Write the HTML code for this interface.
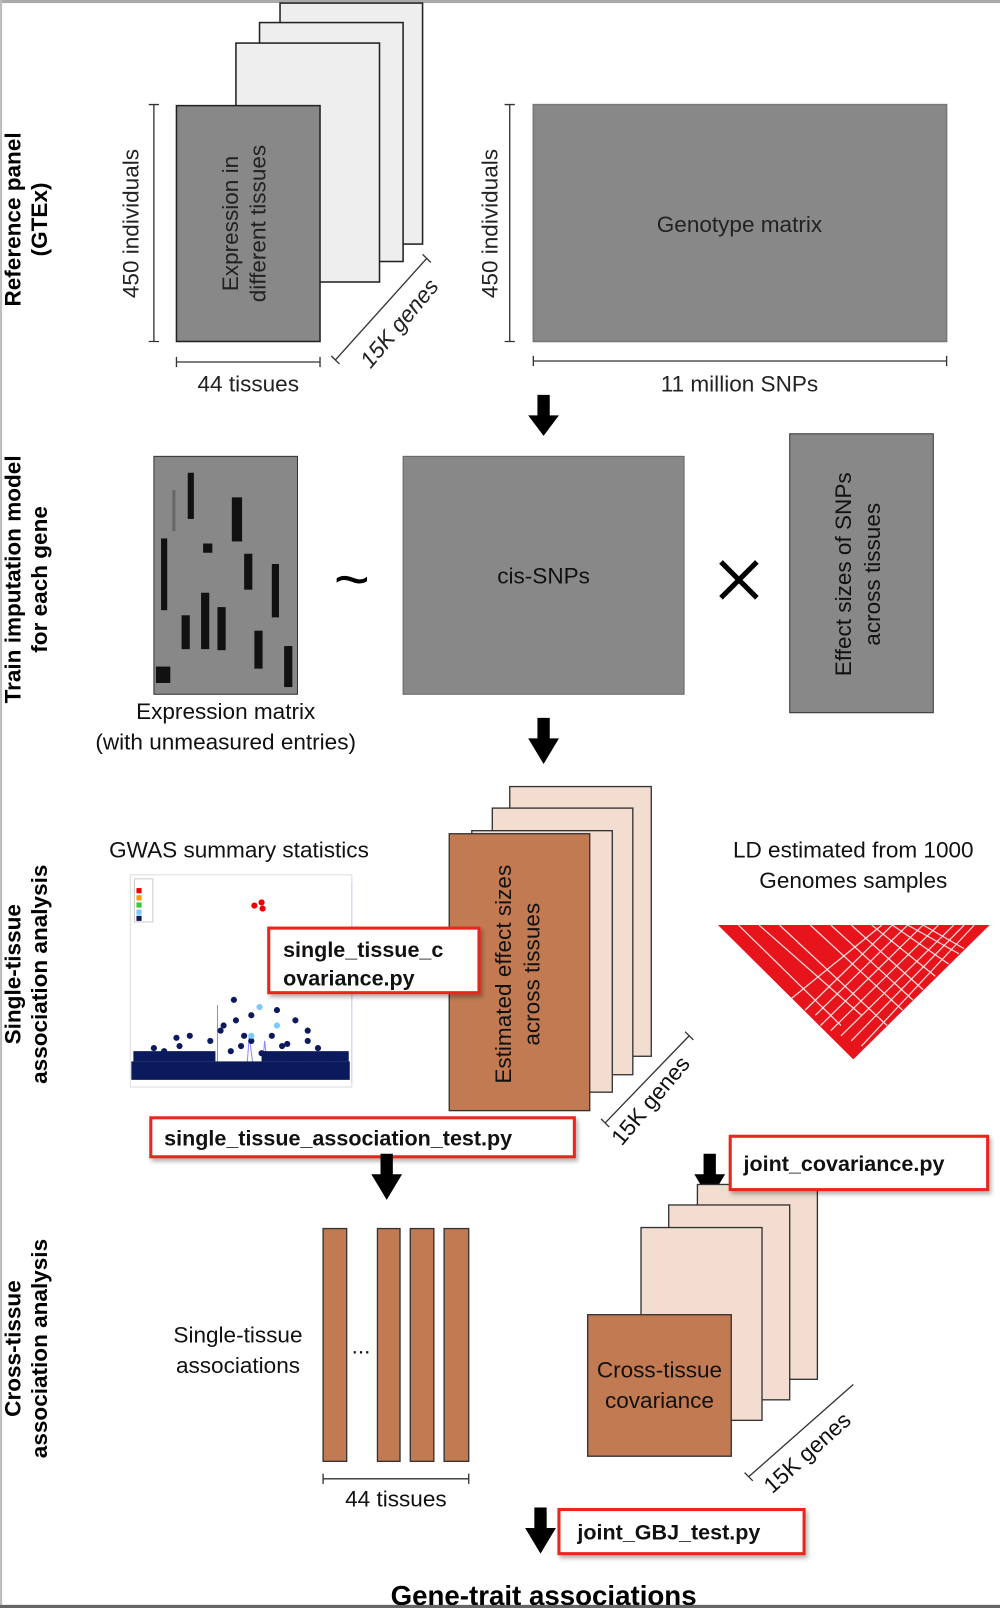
<!DOCTYPE html>
<html><head><meta charset="utf-8"><style>
html,body{margin:0;padding:0;background:#fff;}
svg{display:block;}
text{font-family:"Liberation Sans",sans-serif;}
</style></head><body>
<svg width="1000" height="1608" viewBox="0 0 975 1568" xmlns="http://www.w3.org/2000/svg">
<defs>
<filter id="sh" x="-10%" y="-10%" width="130%" height="140%"><feDropShadow dx="2" dy="3" stdDeviation="2" flood-color="#000" flood-opacity="0.3"/></filter>
</defs>
<rect x="0" y="0" width="975" height="1568" fill="#fff"/>
<rect x="0" y="0" width="975" height="3" fill="#aaa"/>
<rect x="0" y="0" width="2" height="1568" fill="#bbb"/>
<rect x="0" y="1565" width="975" height="3" fill="#666"/>

<!-- Row labels -->
<g font-weight="bold" font-size="22" text-anchor="middle" fill="#000">
<text transform="translate(20,214) rotate(-90)">Reference panel</text>
<text transform="translate(46,214) rotate(-90)">(GTEx)</text>
<text transform="translate(20,565) rotate(-90)">Train imputation model</text>
<text transform="translate(46,565) rotate(-90)">for each gene</text>
<text transform="translate(20,950) rotate(-90)">Single-tissue</text>
<text transform="translate(46,950) rotate(-90)">association analysis</text>
<text transform="translate(20,1315) rotate(-90)">Cross-tissue</text>
<text transform="translate(46,1315) rotate(-90)">association analysis</text>
</g>

<!-- Row 1 -->
<g stroke="#222" stroke-width="1.5">
<rect x="273" y="3" width="139" height="235" fill="#eee"/>
<rect x="253" y="22" width="140" height="233" fill="#eee"/>
<rect x="230" y="42" width="140" height="233" fill="#eee"/>
<rect x="172" y="103" width="140" height="230" fill="#888"/>
<rect x="520" y="102" width="403" height="231" fill="#888" stroke="#777"/>
</g>
<g fill="#222" font-size="22" text-anchor="middle">
<text transform="translate(232,218) rotate(-90)">Expression in</text>
<text transform="translate(259,218) rotate(-90)">different tissues</text>
<text x="721" y="226">Genotype matrix</text>
<text transform="translate(135,218) rotate(-90)">450 individuals</text>
<text transform="translate(485,218) rotate(-90)">450 individuals</text>
<text x="242" y="382">44 tissues</text>
<text x="721" y="382">11 million SNPs</text>
<text transform="translate(395,320) rotate(-50)" font-style="italic">15K genes</text>
</g>
<g stroke="#333" stroke-width="1.3" fill="none">
<path d="M150 102V333M145 102H155M145 333H155"/>
<path d="M497 102V333M492 102H502M492 333H502"/>
<path d="M172 353H312M172 348V358M312 348V358"/>
<path d="M520 352H923M520 347V357M923 347V357"/>
<path d="M327 351L416 252M323 347L331 355M412 248L420 256"/>
</g>
<path d="M524 385h12v20h9l-15 20l-15-20h9z" fill="#000"/>

<!-- Row 2 -->
<rect x="150" y="445" width="140" height="232" fill="#888" stroke="#333"/>
<g fill="#111">
<rect x="183" y="461" width="6" height="45"/>
<rect x="226" y="485" width="10" height="43"/>
<rect x="157" y="525" width="6" height="70"/>
<rect x="198" y="530" width="9" height="9"/>
<rect x="238" y="540" width="8" height="35"/>
<rect x="265" y="550" width="7" height="52"/>
<rect x="177" y="600" width="8" height="33"/>
<rect x="196" y="578" width="8" height="55"/>
<rect x="212" y="592" width="8" height="42"/>
<rect x="248" y="615" width="8" height="37"/>
<rect x="277" y="630" width="8" height="40"/>
<rect x="152" y="650" width="14" height="16"/>
</g>
<rect x="168" y="478" width="3" height="40" fill="#666"/>
<g fill="#111" font-size="22" text-anchor="middle">
<text x="220" y="701">Expression matrix</text>
<text x="220" y="731">(with unmeasured entries)</text>
</g>
<text x="343" y="585" font-size="60" text-anchor="middle" fill="#000">~</text>
<path d="M703 548L738 583M738 548L703 583" stroke="#000" stroke-width="5"/>
<rect x="393" y="445" width="274" height="232" fill="#888" stroke="#666"/>
<text x="530" y="569" fill="#111" font-size="22" text-anchor="middle">cis-SNPs</text>
<rect x="770" y="423" width="140" height="272" fill="#888" stroke="#333"/>
<g fill="#111" font-size="22" text-anchor="middle">
<text transform="translate(830,560) rotate(-90)">Effect sizes of SNPs</text>
<text transform="translate(858,560) rotate(-90)">across tissues</text>
</g>
<path d="M524 700h12v20h9l-15 25l-15-25h9z" fill="#000"/>

<!-- Row 3 -->
<text x="233" y="836" font-size="22" text-anchor="middle" fill="#111">GWAS summary statistics</text>
<rect x="127" y="853" width="216" height="207" fill="#fff" stroke="#ddd"/>
<rect x="131" y="857" width="18" height="42" fill="#fff" stroke="#ccc"/>
<rect x="133" y="866" width="5" height="5" fill="#e00"/><rect x="133" y="873" width="5" height="5" fill="#f90"/><rect x="133" y="880" width="5" height="5" fill="#3c3"/><rect x="133" y="887" width="5" height="5" fill="#7cf"/><rect x="133" y="893" width="5" height="5" fill="#0a1a5c"/>
<path d="M212 1050V980M240 1050L243 1010L248 1050M255 1050L258 1015L262 1050" stroke="#88f" fill="none" stroke-width="1"/>
<line x1="343" y1="860" x2="343" y2="1055" stroke="#ccf"/>
<g fill="#0a1a5c">
<rect x="128" y="1035" width="213" height="18"/>
<rect x="130" y="1025" width="80" height="10"/><rect x="255" y="1025" width="85" height="10"/>
<circle cx="160" cy="1025" r="3"/><circle cx="175" cy="1020" r="3"/><circle cx="190" cy="1030" r="3"/><circle cx="205" cy="1015" r="3"/><circle cx="215" cy="1005" r="3"/><circle cx="225" cy="1025" r="3"/><circle cx="235" cy="1020" r="3"/><circle cx="245" cy="1015" r="3"/><circle cx="255" cy="1027" r="3"/><circle cx="265" cy="1010" r="3"/><circle cx="275" cy="1020" r="3"/><circle cx="290" cy="1030" r="3"/><circle cx="310" cy="1022" r="3"/><circle cx="320" cy="1030" r="3"/>
<circle cx="218" cy="1000" r="3"/><circle cx="230" cy="995" r="3"/><circle cx="245" cy="990" r="3"/><circle cx="270" cy="985" r="3"/><circle cx="288" cy="995" r="3"/><circle cx="300" cy="1005" r="3"/><circle cx="265" cy="1030" r="3"/><circle cx="228" cy="975" r="3"/><circle cx="238" cy="1010" r="3"/><circle cx="280" cy="1018" r="3"/><circle cx="198" cy="1040" r="3"/><circle cx="185" cy="1010" r="3"/>
<circle cx="300" cy="1015" r="3"/><circle cx="150" cy="1022" r="3"/><circle cx="172" cy="1012" r="3"/>
</g>
<circle cx="248" cy="883" r="3" fill="#e00"/><circle cx="255" cy="880" r="3" fill="#e00"/><circle cx="256" cy="886" r="3" fill="#e00"/>
<circle cx="253" cy="982" r="3" fill="#7cf"/><circle cx="270" cy="1000" r="3" fill="#7cf"/><circle cx="245" cy="1010" r="3" fill="#7cf"/>

<g stroke="#333" stroke-width="1.3">
<rect x="497" y="767" width="138" height="263" fill="#f2ddd0"/>
<rect x="480" y="788" width="137" height="260" fill="#f2ddd0"/>
<rect x="460" y="810" width="137" height="255" fill="#f2ddd0"/>
<rect x="438" y="813" width="137" height="270" fill="#c27a52"/>
</g>
<g fill="#111" font-size="22" text-anchor="middle">
<text transform="translate(498,950) rotate(-90)">Estimated effect sizes</text>
<text transform="translate(526,950) rotate(-90)">across tissues</text>
<text transform="translate(640,1078) rotate(-50)">15K genes</text>
<text x="832" y="836">LD estimated from 1000</text>
<text x="832" y="866">Genomes samples</text>
</g>
<path d="M590 1095L672 1010M586 1091L594 1099M668 1006L676 1014" stroke="#333" stroke-width="1.3"/>
<polygon points="700,902 965,902 832,1033" fill="#e8141c"/>
<g stroke="#fff" stroke-width="1.2" opacity="0.85">
<path d="M760 902L865 1000M790 902L880 985M830 902L900 965M870 902L925 940M900 902L940 925M720 902L820 1000M740 902L840 990M810 902L890 975M850 902L912 952M885 902L935 930"/>
<path d="M900 902L800 1000M930 902L820 1010M870 902L785 985M950 902L840 1020M860 902L770 975M915 902L810 1005M885 902L795 990M940 902L830 1015"/>
</g>

<g filter="url(#sh)">
<rect x="262" y="905" width="205" height="63" fill="#fff" stroke="#e8281e" stroke-width="3"/>
<rect x="147" y="1090" width="413" height="38" fill="#fff" stroke="#e8281e" stroke-width="3"/>
<rect x="545" y="1472" width="239" height="43" fill="#fff" stroke="#e8281e" stroke-width="3"/>
</g>
<g font-weight="bold" font-size="21" fill="#111">
<text x="276" y="933">single_tissue_c</text>
<text x="276" y="961">ovariance.py</text>
<text x="160" y="1117">single_tissue_association_test.py</text>
<text x="563" y="1501">joint_GBJ_test.py</text>
</g>
<path d="M371 1125h12v20h9l-15 25l-15-25h9z" fill="#000"/>
<path d="M686 1125h12v20h9l-15 25l-15-25h9z" fill="#000"/>

<!-- Row 4 -->
<g fill="#111" font-size="22" text-anchor="middle">
<text x="232" y="1309">Single-tissue</text>
<text x="232" y="1339">associations</text>
<text x="352" y="1320">...</text>
<text x="386" y="1469">44 tissues</text>
</g>
<g fill="#c27a52" stroke="#333" stroke-width="1.3">
<rect x="315" y="1198" width="23" height="227"/>
<rect x="368" y="1198" width="22" height="227"/>
<rect x="400" y="1198" width="23" height="227"/>
<rect x="433" y="1198" width="24" height="227"/>
</g>
<path d="M315 1442H457M315 1437V1447M457 1437V1447" stroke="#333" stroke-width="1.3"/>
<g stroke="#333" stroke-width="1.3">
<rect x="680" y="1155" width="117" height="190" fill="#f2ddd0"/>
<rect x="652" y="1175" width="118" height="190" fill="#f2ddd0"/>
<rect x="625" y="1197" width="118" height="188" fill="#f2ddd0"/>
<rect x="573" y="1282" width="140" height="138" fill="#c27a52"/>
</g>
<g filter="url(#sh)">
<rect x="712" y="1108" width="251" height="52" fill="#fff" stroke="#e8281e" stroke-width="3"/>
</g>
<text x="725" y="1142" font-weight="bold" font-size="21" fill="#111">joint_covariance.py</text>
<g fill="#111" font-size="22" text-anchor="middle">
<text x="643" y="1343">Cross-tissue</text>
<text x="643" y="1373">covariance</text>
<text transform="translate(792,1422) rotate(-42)">15K genes</text>
</g>
<path d="M730 1440L832 1350M726 1436L734 1444" stroke="#333" stroke-width="1.3"/>
<path d="M521 1470h12v20h9l-15 25l-15-25h9z" fill="#000"/>
<text x="530" y="1565" font-weight="bold" font-size="27" text-anchor="middle" fill="#000">Gene-trait associations</text>
<rect x="0" y="1565" width="975" height="3" fill="#666"/>
</svg>
</body></html>
